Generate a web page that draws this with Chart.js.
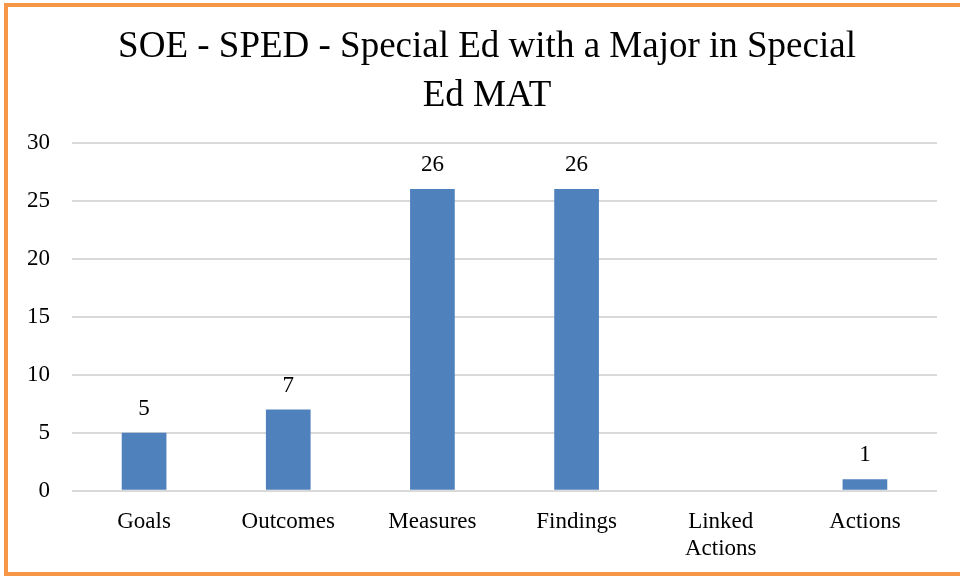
<!DOCTYPE html>
<html>
<head>
<meta charset="utf-8">
<script src="https://cdn.jsdelivr.net/npm/chart.js@4/dist/chart.umd.min.js"></script>
<style>
  html, body { margin: 0; padding: 0; background: #fff; overflow: hidden; }
  #wrap { position: relative; width: 960px; height: 577px; }
  #chart { position: absolute; left: 0; top: 0; }
  #frame {
    position: absolute; left: 4px; top: 3px; width: 990px; height: 573px;
    box-sizing: border-box; border: 4px solid #f79646; pointer-events: none;
  }
</style>
</head>
<body>
<div id="wrap">
  <canvas id="chart" width="960" height="577"></canvas>
  <div id="frame"></div>
</div>
<script>
const categories = ['Goals', 'Outcomes', 'Measures', 'Findings', ['Linked', 'Actions'], 'Actions'];
const counts = [5, 7, 26, 26, null, 1];
const yTicks = [0, 5, 10, 15, 20, 25, 30];
const titleLines = ['SOE - SPED - Special Ed with a Major in Special', 'Ed MAT'];

const FONT = "'Liberation Serif', 'DejaVu Serif', serif";

// Prints each bar's value just above the bar top
const barValueLabels = {
  id: 'barValueLabels',
  afterDatasetsDraw(chart) {
    const ctx = chart.ctx;
    ctx.save();
    ctx.font = '23px ' + FONT;
    ctx.fillStyle = '#000';
    ctx.textAlign = 'center';
    ctx.textBaseline = 'middle';
    chart.data.datasets.forEach((ds, di) => {
      chart.getDatasetMeta(di).data.forEach((bar, i) => {
        const v = ds.data[i];
        if (v === null || v === undefined) return;
        ctx.fillText(String(v), bar.x, bar.y - 24);
      });
    });
    ctx.restore();
  }
};

// Centres the title over the framed panel rather than the full canvas
const titleOffset = {
  id: 'titleOffset',
  afterLayout(chart) {
    if (chart.titleBlock) chart.titleBlock.left = 37;
  }
};

new Chart(document.getElementById('chart'), {
  type: 'bar',
  data: {
    labels: categories,
    datasets: [{
      data: counts,
      backgroundColor: '#4f81bd',
      categoryPercentage: 1,
      barPercentage: 0.31
    }]
  },
  options: {
    responsive: false,
    animation: false,
    layout: { padding: { left: 5, right: 23, top: 0, bottom: -3 } },
    plugins: {
      legend: { display: false },
      tooltip: { enabled: false },
      title: {
        display: true,
        text: titleLines,
        color: '#000',
        font: { family: FONT, size: 37, weight: 'normal', lineHeight: 1.32 },
        padding: { top: 23, bottom: 22 }
      }
    },
    scales: {
      x: {
        grid: { display: false, drawTicks: false },
        border: { display: false },
        ticks: {
          color: '#000',
          padding: 17,
          maxRotation: 0,
          autoSkip: false,
          font: { family: FONT, size: 23, lineHeight: 1.2 }
        }
      },
      y: {
        min: 0,
        max: 30,
        afterBuildTicks(scale) { scale.ticks = yTicks.map(v => ({ value: v })); },
        grid: { color: '#d9d9d9', lineWidth: 2, drawTicks: false },
        border: { display: false },
        ticks: {
          color: '#000',
          padding: 22,
          font: { family: FONT, size: 23 }
        }
      }
    }
  },
  plugins: [titleOffset, barValueLabels]
});
</script>
</body>
</html>
